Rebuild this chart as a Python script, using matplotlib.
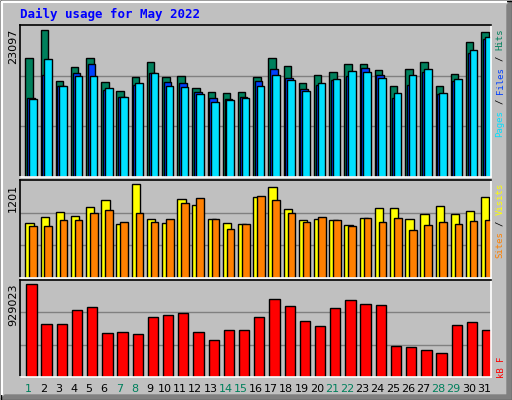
import matplotlib
matplotlib.use("Agg")
import matplotlib.pyplot as plt
import numpy as np

days = list(range(1, 32))
weekend = [1, 7, 8, 14, 15, 21, 22, 28, 29]
hits = [18686, 23097, 15066, 17270, 18686, 14908, 13491, 15696, 18057, 15696, 15853, 13964, 13334, 13177, 13334, 15696,
        18686, 17427, 14751, 16011, 16483, 17742, 17742, 16798, 14279, 16955, 18057, 14279, 16168, 21206, 22780]
files = [12390, 16011, 14279, 16326, 17742, 13649, 12547, 14436, 16326, 14908, 14751, 13334, 12390, 12233, 12547, 15066,
         16955, 15538, 13807, 14436, 15223, 15853, 17113, 16011, 12390, 14436, 16483, 13019, 15066, 19474, 21678]
pages = [12233, 18529, 14279, 15853, 15853, 13964, 12547, 14751, 16326, 14279, 14121, 13019, 11760, 12075, 12390, 14279,
         16011, 15223, 13491, 14751, 15381, 16640, 16483, 15538, 13177, 16011, 16955, 13177, 15381, 19946, 21993]
visits = [705, 783, 849, 796, 914, 1005, 692, 1201, 757, 705, 1018, 940, 757, 705, 692, 1044,
          1162, 888, 744, 757, 744, 679, 770, 901, 901, 757, 822, 927, 822, 862, 1044]
sites = [666, 666, 744, 744, 835, 875, 718, 835, 718, 757, 966, 1031, 757, 627, 692, 1057,
         1005, 835, 718, 783, 744, 666, 770, 718, 770, 613, 679, 718, 692, 731, 744]
kbytes = [929023, 530868, 530868, 673794, 704421, 438987, 449196, 428778, 602331, 622749, 643167, 449196, 367524, 469614,
          469614, 602331, 786093, 714630, 561495, 510450, 694212, 775884, 735048, 724839, 306270, 296061, 275643,
          245016, 520659, 551286, 469614]

BG = "#C0C0C0"
C_HITS, C_FILES, C_PAGES = "#00805C", "#0040FF", "#00E0FF"
C_VISITS, C_SITES, C_KB = "#FFFF00", "#FF8000", "#FF0000"
GREEN = "#00805C"

W, H = 512, 400
fig = plt.figure(figsize=(W / 100, H / 100), dpi=100, facecolor=BG)

def px_axes(top, bottom, left=20, right=491):
    ax = fig.add_axes([left / W, 1 - bottom / H, (right - left) / W, (bottom - top) / H])
    ax.set_facecolor(BG)
    ax.set_xlim(0.5, 31.5)
    ax.set_xticks([]); ax.set_yticks([])
    for s in ["left", "top"]:
        ax.spines[s].set_color("black")
    for s in ["right", "bottom"]:
        ax.spines[s].set_color("white")
    for s in ax.spines.values():
        s.set_linewidth(1.2)
    return ax

x = np.array(days, dtype=float)
edge = dict(edgecolor="black", linewidth=1.0, align="edge")

ax1 = px_axes(25, 177)
top1 = max(hits) / 0.97
ax1.set_ylim(0, top1)
for f in (1 / 3, 2 / 3):
    ax1.axhline(top1 * f, color="#808080", lw=1, zorder=0)
ax1.bar(x - 0.5 + 0.35, hits, width=0.49, color=C_HITS, **edge)
ax1.bar(x - 0.5 + 0.46, files, width=0.50, color=C_FILES, **edge)
ax1.bar(x - 0.5 + 0.59, pages, width=0.50, color=C_PAGES, **edge)

ax2 = px_axes(180, 278)
top2 = max(visits) / 0.956
ax2.set_ylim(0, top2)
for f in (1 / 3, 2 / 3):
    ax2.axhline(top2 * f, color="#808080", lw=1, zorder=0)
ax2.bar(x - 0.5 + 0.35, visits, width=0.55, color=C_VISITS, **edge)
ax2.bar(x - 0.5 + 0.61, sites, width=0.50, color=C_SITES, **edge)

ax3 = px_axes(280, 377)
top3 = max(kbytes) / 0.955
ax3.set_ylim(0, top3)
for f in (1 / 3, 2 / 3):
    ax3.axhline(top3 * f, color="#808080", lw=1, zorder=0)
ax3.bar(x - 0.5 + 0.41, kbytes, width=0.68, color=C_KB, **edge)

fig.text(20 / W, 1 - 14 / H, "Daily usage for May 2022", color="#0000FF", fontsize=9,
         family="DejaVu Sans Mono", fontweight="bold", va="center", ha="left")

for ytop, lab in [(29, str(max(hits))), (184, str(max(visits))), (284, str(max(kbytes)))]:
    fig.text(13 / W, 1 - ytop / H, lab, rotation=90, fontsize=8, va="top", ha="center", color="black")

FS = 6.5
def vlabel(ybottom, parts):
    step = 0.6 * FS * 100 / 72
    y = ybottom
    for txt, col in parts:
        t = txt.strip()
        lead = len(txt) - len(txt.lstrip())
        fig.text(500 / W, 1 - (y - lead * step) / H, t, rotation=90, fontsize=FS,
                 family="DejaVu Sans Mono", color=col, va="bottom", ha="center")
        y -= step * len(txt)

vlabel(137, [("Pages", C_PAGES), (" / ", "black"), ("Files", C_FILES), (" / ", "black"), ("Hits", C_HITS)])
vlabel(258, [("Sites", C_SITES), (" / ", "black"), ("Visits", C_VISITS)])
vlabel(377, [("kB", C_KB), (" F", C_KB)])

for d in days:
    xp = 20 + (d - 0.5) * (471 / 31) + 0.5
    fig.text(xp / W, 1 - 389 / H, str(d), fontsize=8, ha="center", va="center",
             color=GREEN if d in weekend else "black")

frame = fig.add_axes([0, 0, 1, 1], facecolor="none", zorder=-1)
frame.set_xlim(0, W); frame.set_ylim(H, 0); frame.axis("off")
frame.fill([W - 5, W - 1, W - 1, 1, 5, W - 5], [5, 1, H - 1, H - 1, H - 5, H - 5], color="#808080")
frame.plot([0.5, W - 0.5, W - 0.5, 0.5, 0.5], [0.5, 0.5, H - 0.5, H - 0.5, 0.5], color="black", lw=1)
frame.plot([2, W - 6], [2, 2], color="white", lw=1.5)
frame.plot([2, 2], [2, H - 6], color="white", lw=1.5)

fig.savefig("out.png", dpi=100, facecolor=BG)
